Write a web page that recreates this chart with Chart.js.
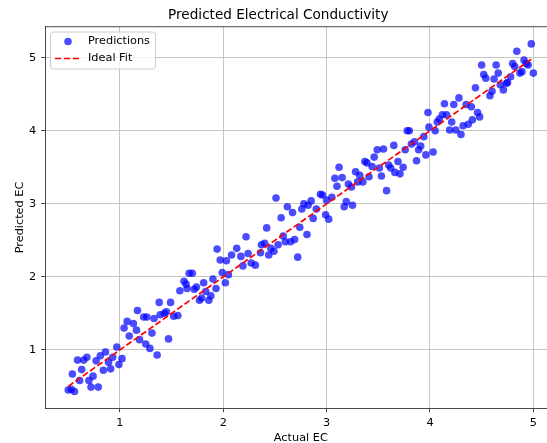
<!DOCTYPE html>
<html><head><meta charset="utf-8">
<script src="https://cdn.jsdelivr.net/npm/chart.js@4.4.1/dist/chart.umd.min.js"></script>
<style>
html,body{margin:0;padding:0;overflow:hidden;background:#fff;width:547px;height:443px}
#wrap{position:absolute;left:0;top:0;width:602px;height:443px}
</style>
</head><body><div id="wrap"><canvas id="c" width="602" height="443"></canvas></div>
<script>
const actualEC = [
0.50,0.53,0.56,0.54,0.61,0.63,0.59,0.65,0.68,0.72,0.70,0.74,0.79,0.77,0.81,0.86,0.84,0.89,0.91,0.93,
0.97,0.99,1.02,1.04,1.07,1.09,1.13,1.16,1.17,1.23,1.19,1.25,1.29,1.31,1.36,1.26,1.39,1.43,1.38,1.47,
1.33,1.45,1.49,1.52,1.56,1.58,1.62,1.64,1.65,1.67,1.70,1.72,1.74,1.77,1.79,1.81,1.83,1.86,1.88,1.90,
1.93,1.94,1.97,1.99,2.02,2.03,2.05,
2.08,2.13,2.17,2.19,2.22,2.24,2.27,2.31,2.36,2.37,2.40,2.42,2.44,2.46,2.49,2.51,2.53,2.56,2.58,2.60,
2.62,2.65,2.67,2.69,2.72,2.74,2.76,2.78,2.81,2.82,2.85,2.87,2.90,2.94,2.96,2.99,3.00,3.02,
3.05,3.08,3.10,3.12,3.15,3.17,3.19,3.25,3.21,3.24,3.28,3.30,3.32,3.35,3.37,3.39,3.41,3.44,3.46,3.49,
3.51,3.53,3.55,3.58,3.60,3.62,3.65,3.66,3.69,3.71,3.74,3.76,3.78,3.80,3.82,3.85,3.87,3.89,3.91,3.94,
3.96,3.98,3.99,
4.03,4.05,4.07,4.09,4.12,4.14,4.16,4.19,4.21,4.23,4.25,4.28,4.30,4.32,4.35,4.37,4.40,4.41,4.44,4.46,
4.48,4.50,4.52,4.54,4.58,4.60,4.62,4.64,4.66,4.68,4.71,4.74,4.75,4.78,4.80,4.82,4.84,4.87,4.89,4.91,
4.93,4.95,4.98,5.00
];
const predictedEC = [
0.45,0.46,0.43,0.67,0.58,0.73,0.86,0.86,0.90,0.49,0.58,0.64,0.49,0.85,0.92,0.97,0.72,0.83,0.74,0.90,
1.04,0.80,0.88,1.30,1.39,1.19,1.36,1.27,1.54,1.45,1.14,1.08,1.02,1.23,0.93,1.45,1.48,1.50,1.65,1.15,
1.43,1.52,1.65,1.46,1.47,1.81,1.94,1.90,1.84,2.05,2.05,1.83,1.86,1.68,1.71,1.92,1.80,1.68,1.74,1.97,
1.84,2.38,2.23,2.06,1.92,2.22,2.03,
2.30,2.39,2.28,2.15,2.55,2.32,2.19,2.16,2.33,2.44,2.46,2.67,2.30,2.39,2.35,3.08,2.44,2.81,2.56,2.48,
2.96,2.48,2.88,2.51,2.27,2.68,2.93,3.00,2.58,2.98,3.04,2.80,2.93,3.13,3.12,2.85,3.05,2.79,
3.09,3.35,3.24,3.50,3.36,2.96,3.03,2.98,3.27,3.23,3.44,3.30,3.39,3.30,3.58,3.56,3.37,3.51,3.64,3.74,
3.49,3.38,3.75,3.18,3.53,3.49,3.80,3.43,3.58,3.41,3.50,3.74,4.00,4.00,3.82,3.85,3.59,3.74,3.79,3.92,
3.67,4.25,4.05,
3.71,4.00,4.12,4.16,4.22,4.37,4.22,4.01,4.12,4.36,4.01,4.45,3.95,4.07,4.36,4.09,4.33,4.15,4.59,4.25,
4.19,4.90,4.77,4.72,4.48,4.54,4.71,4.90,4.79,4.63,4.56,4.65,4.66,4.74,4.92,4.88,5.09,4.79,4.81,4.97,
4.92,4.90,5.19,4.79
];
const tickValues = [1, 2, 3, 4, 5];
const fitRange = [Math.min(...actualEC), Math.max(...actualEC)];
const xLimits = [0.275, 5.225];
const yLimits = [0.20, 5.425];

const FONT = 'DejaVu Sans';
const BLUE = 'rgba(0,0,255,0.7)';
const RED = '#ff0000';
const DASH = [6.2, 2.7];

const extras = {
  id: 'extras',
  afterDraw(chart) {
    const ctx = chart.ctx, a = chart.chartArea;
    ctx.save();
    // top spine
    ctx.strokeStyle = '#333'; ctx.lineWidth = 0.9;
    ctx.beginPath(); ctx.moveTo(a.left, a.top); ctx.lineTo(a.right, a.top); ctx.stroke();
    // legend
    const lx = a.left + 5.5, ly = a.top + 5.3, lw = 105, lh = 37, r = 3;
    ctx.beginPath();
    ctx.moveTo(lx + r, ly); ctx.lineTo(lx + lw - r, ly); ctx.arcTo(lx + lw, ly, lx + lw, ly + r, r);
    ctx.lineTo(lx + lw, ly + lh - r); ctx.arcTo(lx + lw, ly + lh, lx + lw - r, ly + lh, r);
    ctx.lineTo(lx + r, ly + lh); ctx.arcTo(lx, ly + lh, lx, ly + lh - r, r);
    ctx.lineTo(lx, ly + r); ctx.arcTo(lx, ly, lx + r, ly, r); ctx.closePath();
    ctx.fillStyle = 'rgba(255,255,255,0.8)'; ctx.fill();
    ctx.strokeStyle = '#cccccc'; ctx.lineWidth = 1; ctx.stroke();
    const ds = chart.data.datasets;
    // marker
    ctx.fillStyle = ds[1].backgroundColor;
    ctx.beginPath(); ctx.arc(lx + 17.5, ly + 9.5, 3.8, 0, Math.PI * 2); ctx.fill();
    // dashed line
    ctx.strokeStyle = ds[0].borderColor; ctx.lineWidth = ds[0].borderWidth; ctx.setLineDash(ds[0].borderDash);
    ctx.beginPath(); ctx.moveTo(lx + 4.5, ly + 26.5); ctx.lineTo(lx + 28.5, ly + 26.5); ctx.stroke();
    ctx.setLineDash([]);
    ctx.fillStyle = '#000'; ctx.font = '11.3px "' + FONT + '"';
    ctx.textBaseline = 'middle'; ctx.textAlign = 'left';
    ctx.fillText(ds[1].label, lx + 37.5, ly + 9.5);
    ctx.fillText(ds[0].label, lx + 37.5, ly + 26.5);
    ctx.restore();
  }
};

new Chart(document.getElementById('c'), {
  type: 'scatter',
  data: {
    datasets: [
      { type: 'line', label: 'Ideal Fit', data: fitRange.map(v => ({ x: v, y: v })),
        borderColor: RED, borderWidth: 1.7, borderDash: DASH, pointRadius: 0, fill: false, order: 0 },
      { type: 'scatter', label: 'Predictions', data: actualEC.map((x, i) => ({ x: x, y: predictedEC[i] })),
        backgroundColor: BLUE, borderWidth: 0, pointRadius: 3.8, pointHoverRadius: 3.8, order: 1 }
    ]
  },
  options: {
    responsive: false, animation: false,
    layout: { padding: { left: 0, right: 45.4, top: 0, bottom: 0 } },
    plugins: {
      legend: { display: false }, tooltip: { enabled: false },
      title: { display: true, text: 'Predicted Electrical Conductivity', color: '#000',
        font: { family: FONT, size: 13.6, weight: 'normal', lineHeight: 1.2 }, padding: { top: 7.3, bottom: 3.1 } }
    },
    scales: {
      x: {
        type: 'linear', min: xLimits[0], max: xLimits[1],
        afterBuildTicks: s => { s.ticks = tickValues.map(v => ({ value: v })); },
        afterFit: s => { s.height = 34.7; },
        ticks: { color: '#000', font: { family: FONT, size: 11.3 }, padding: 4, maxRotation: 0, autoSkip: false, callback: v => String(v) },
        grid: { color: '#c0c0c0', lineWidth: 0.9, tickLength: 3.9, tickColor: '#333', drawTicks: true },
        border: { color: '#333', width: 0.9 },
        title: { display: true, text: 'Actual EC', color: '#000', font: { family: FONT, size: 11.3, lineHeight: 0.84 }, padding: { top: 0, bottom: 0 } }
      },
      y: {
        type: 'linear', min: yLimits[0], max: yLimits[1],
        afterBuildTicks: s => { s.ticks = tickValues.map(v => ({ value: v })); },
        afterFit: s => { s.width = 45; },
        ticks: { color: '#000', font: { family: FONT, size: 11.3 }, padding: 5, autoSkip: false, callback: v => String(v) },
        grid: { color: '#c0c0c0', lineWidth: 0.9, tickLength: 3.9, tickColor: '#333', drawTicks: true },
        border: { color: '#333', width: 0.9 },
        title: { display: true, text: 'Predicted EC', color: '#000', font: { family: FONT, size: 11.3, lineHeight: 1.2 }, padding: { top: 13, bottom: 0 } }
      }
    }
  },
  plugins: [extras]
});
</script>
</body></html>
